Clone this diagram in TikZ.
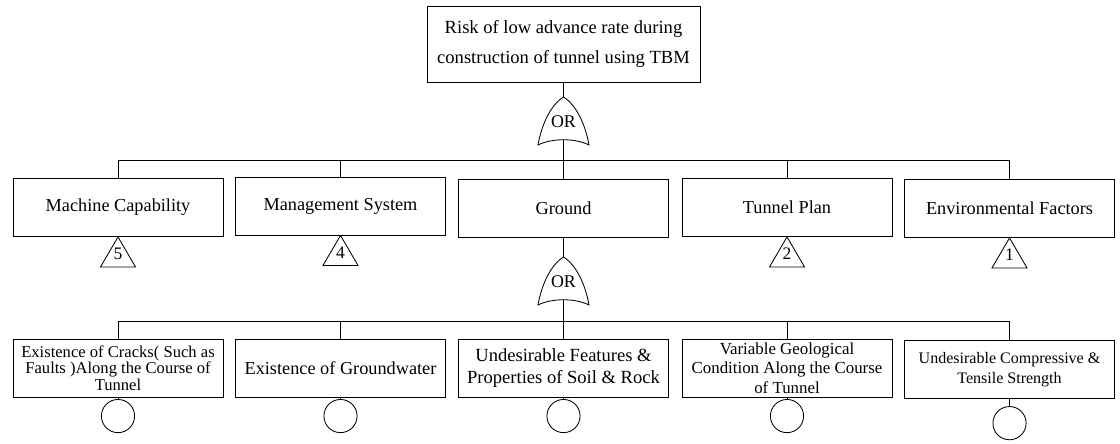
\documentclass[tikz,border=0pt]{standalone}
\usepackage{fontspec}
\setmainfont{Liberation Serif}
\usepackage{tikz}
\usetikzlibrary{shapes,positioning,calc}
\tikzset{
    event/.style={
        rectangle,
        draw,
        line width=0.6pt,
        minimum width=5.25cm,
        minimum height=1.45cm,
        inner sep=1pt,
        align=center,
        font=\fontsize{13}{15}\selectfont
    },
    topevent/.style={
        event,
        minimum width=6.825cm,
        minimum height=1.9cm,
        font=\fontsize{13.2}{21.5}\selectfont
    },
    basicevent/.style={
        circle,
        draw,
        line width=0.6pt,
        minimum size=0.83cm,
        inner sep=0pt
    },
    transnum/.style={
        inner sep=0pt,
        font=\fontsize{12.5}{14}\selectfont
    },
    gatelabel/.style={
        inner sep=0pt,
        font=\fontsize{12.7}{14}\selectfont
    },
    link/.style={
        line width=0.6pt
    },
    orgate/.pic={
        \coordinate (-in) at (0,0);
        \coordinate (-out) at (0,43);
        \draw[link] (0,0) .. controls (-13,8) and (-22,28) .. (-25.5,48)
            .. controls (-12,41) and (12,41) .. (25.5,48)
            .. controls (22,28) and (13,8) .. (0,0) -- cycle;
        \node[gatelabel] (-lbl) at (0,25) {OR};
    }
}

\begin{document}
\begin{tikzpicture}[x=0.25mm, y=-0.25mm]
    \useasboundingbox (0,0) rectangle (1120,443);

    % Top event and its gate
    \node[topevent] (top) at (563.5,44) {Risk of low advance rate during\\construction of tunnel using TBM};
    \pic (g1) at (563.5,97) {orgate};

    % First level
    \node[event] (mc) at (118,207.5) {Machine Capability};
    \node[event] (ms) at (340.5,206) {Management System};
    \node[event] (gr) at (563.5,208) {Ground};
    \node[event] (tp) at (787,207.5) {Tunnel Plan};
    \node[event] (ef) at (1009.5,208.5) {Environmental Factors};

    % Connections
    \draw[link] (top) -- (g1-in);
    \draw[link] (g1-out) -- ++(0,20) -| (mc.north);
    \draw[link] (g1-out) -- ++(0,20) -| (ms.north);
    \draw[link] (g1-out) -- (gr.north);
    \draw[link] (g1-out) -- ++(0,20) -| (tp.north);
    \draw[link] (g1-out) -- ++(0,20) -| (ef.north);

    % Transfer triangles
    \draw[link] (mc.south) -- ++(-17.5,30) -- ++(35,0) -- cycle;
    \node[transnum] (t5) at ($(mc.south)+(0,17)$) {5};
    \draw[link] (ms.south) -- ++(-17.5,30) -- ++(35,0) -- cycle;
    \node[transnum] (t4) at ($(ms.south)+(0,17)$) {4};
    \draw[link] (tp.south) -- ++(-17.5,30) -- ++(35,0) -- cycle;
    \node[transnum] (t2) at ($(tp.south)+(0,17)$) {2};
    \draw[link] (ef.south) -- ++(-17.5,30) -- ++(35,0) -- cycle;
    \node[transnum] (t1) at ($(ef.south)+(0,17)$) {1};

    % Ground gate
    \pic (g2) at (563.5,257) {orgate};
    \draw[link] (gr) -- (g2-in);

    % Second level
    \node[event, font=\fontsize{11.8}{11.6}\selectfont] (b1) at (118,368) {Existence of Cracks( Such as\\Faults )Along the Course of\\Tunnel};
    \node[event] (b2) at (340.5,368) {Existence of Groundwater};
    \node[event, font=\fontsize{13.2}{15}\selectfont] (b3) at (563.5,368) {Undesirable Features \&\\Properties of Soil \& Rock};
    \node[event, font=\fontsize{12}{13.8}\selectfont] (b4) at (787,368) {Variable Geological\\Condition Along the Course\\of Tunnel};
    \node[event, font=\fontsize{11.4}{14}\selectfont] (b5) at (1009.5,369.5) {Undesirable Compressive \&\\Tensile Strength};

    \draw[link] (g2-out) -- ++(0,21) -| (b1.north);
    \draw[link] (g2-out) -- ++(0,21) -| (b2.north);
    \draw[link] (g2-out) -- (b3.north);
    \draw[link] (g2-out) -- ++(0,21) -| (b4.north);
    \draw[link] (g2-out) -- ++(0,21) -| (b5.north);

    % Basic events
    \node[basicevent, below=0.04cm of b1] (c1) {};
    \node[basicevent, below=0.04cm of b2] (c2) {};
    \node[basicevent, below=0.04cm of b3] (c3) {};
    \node[basicevent, below=0.04cm of b4] (c4) {};
    \node[basicevent, below=0.18cm of b5] (c5) {};
    \draw[link] (b1) -- (c1);
    \draw[link] (b2) -- (c2);
    \draw[link] (b3) -- (c3);
    \draw[link] (b4) -- (c4);
    \draw[link] (b5) -- (c5);
\end{tikzpicture}
\end{document}
